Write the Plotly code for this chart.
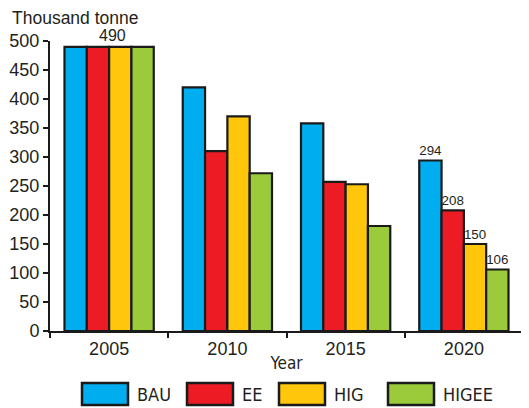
import plotly.graph_objects as go

years = ["2005", "2010", "2015", "2020"]
series_names = ["BAU", "EE", "HIG", "HIGEE"]
bau = [490, 420, 358, 294]
ee = [490, 310, 257, 208]
hig = [490, 370, 253, 150]
higee = [490, 272, 181, 106]
labels_2020 = [294, 208, 150, 106]
colors = ["#00AEEF", "#ED1C24", "#FFC60B", "#9BCB3B"]

values = [bau, ee, hig, higee]
FONT = "Liberation Sans, Arial, sans-serif"
NARROW = "DejaVu Sans Condensed, Liberation Sans Narrow, Arial Narrow, sans-serif"
TXT = "#231F20"
EDGE = "#1a1a1a"

# page has an 8px body margin; size the figure so it fits the 529x408 window
OFF = 8
W, H = 529 - OFF, 408 - OFF
ML, MR, MT, MB = 42, 6, 33, 77
PW, PH = W - ML - MR, H - MT - MB


def px_x(p):
    return (p - OFF - ML) / PW


def px_y(p):
    return (H - MB - (p - OFF)) / PH


fig = go.Figure()
for i, (name, vals) in enumerate(zip(series_names, values)):
    text = ["" for _ in years]
    text[-1] = str(labels_2020[i])
    fig.add_trace(go.Bar(
        x=years, y=vals, name=name, showlegend=False,
        marker=dict(color=colors[i], line=dict(color=EDGE, width=2.2)),
        text=text, textposition="outside", cliponaxis=False,
        textfont=dict(size=16, color=TXT, family=FONT),
    ))

fig.add_annotation(x=years.index("2005"), xref="x", y=bau[0], yref="y",
                   text=str(bau[0]), showarrow=False,
                   yanchor="bottom", yshift=1, xshift=3,
                   font=dict(size=16, color=TXT, family=FONT))
fig.add_annotation(x=px_x(10), xref="paper", xanchor="left", y=px_y(18), yref="paper",
                   yanchor="middle", text="Thousand tonne", showarrow=False,
                   font=dict(size=17.5, color=TXT, family=FONT))

# custom legend with large swatches
leg_left = [82, 187, 279, 388]
box_w, box_top, box_bot = 46, 383, 405
for i, name in enumerate(series_names):
    fig.add_shape(type="rect", xref="paper", yref="paper",
                  x0=px_x(leg_left[i]), x1=px_x(leg_left[i] + box_w),
                  y0=px_y(box_bot), y1=px_y(box_top),
                  fillcolor=colors[i], line=dict(color=EDGE, width=2.5))
    fig.add_annotation(x=px_x(leg_left[i] + box_w + 7), xref="paper", xanchor="left",
                       y=px_y((box_top + box_bot) / 2), yref="paper", yanchor="middle",
                       text=name, showarrow=False,
                       font=dict(size=18, color=TXT, family=NARROW))

fig.update_layout(
    width=W, height=H,
    margin=dict(l=ML, r=MR, t=MT, b=MB),
    paper_bgcolor="white", plot_bgcolor="white",
    barmode="group", bargap=0.245, bargroupgap=0,
    font=dict(family=FONT, color=TXT),
    showlegend=False,
    xaxis=dict(
        type="category", range=[-0.5, 3.5], tickson="boundaries",
        ticks="outside", ticklen=5, tickwidth=2, tickcolor=EDGE,
        showline=True, linecolor=EDGE, linewidth=2,
        tickfont=dict(size=18, color=TXT, family=FONT),
        title=dict(text="Year", font=dict(size=17, color=TXT, family=NARROW), standoff=0),
        showgrid=False, automargin=False,
    ),
    yaxis=dict(
        range=[0, 500], dtick=50, ticks="outside", ticklen=5, tickwidth=2,
        tickcolor=EDGE, showline=True, linecolor=EDGE, linewidth=2,
        tickfont=dict(size=18, color=TXT, family=FONT), showgrid=False, zeroline=False,
        automargin=False,
    ),
)

fig.write_html("out.html")
